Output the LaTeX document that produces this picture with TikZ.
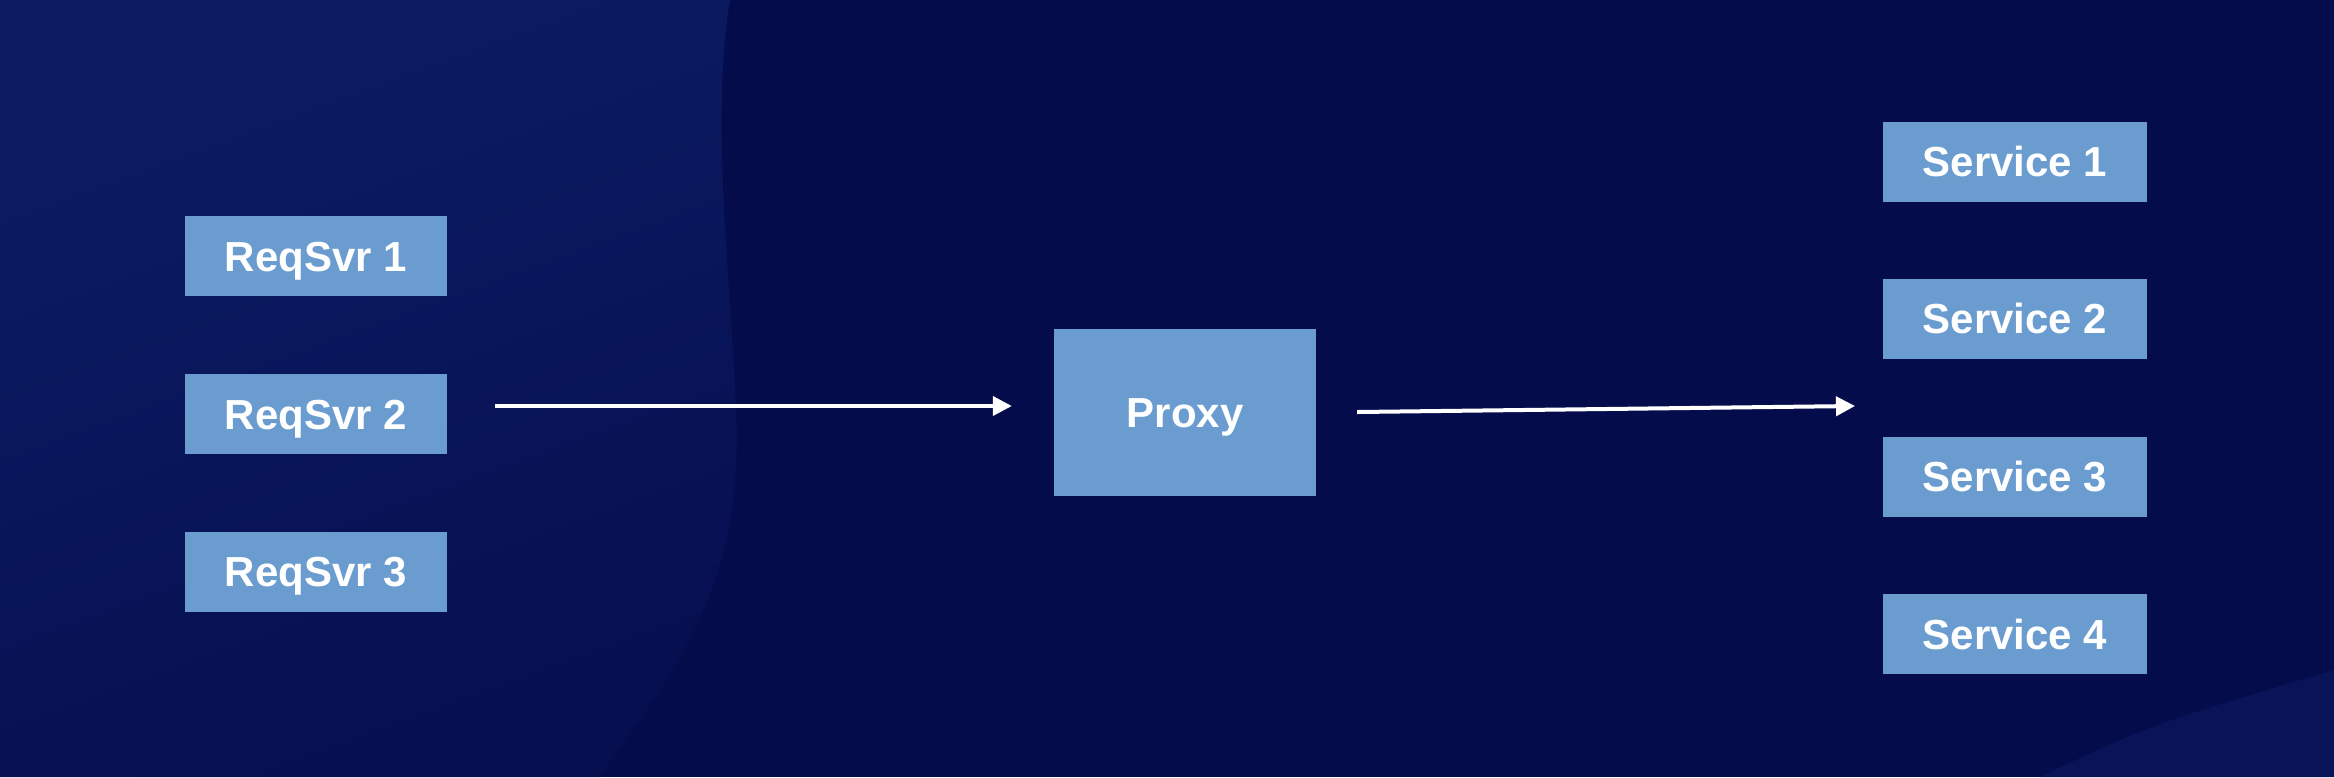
\documentclass[tikz,border=0pt]{standalone}
\usepackage{fontspec}
\setmainfont{Liberation Sans}
\usetikzlibrary{arrows.meta}
\definecolor{bgdark}{RGB}{5,12,76}
\definecolor{bgtop}{RGB}{12,28,99}
\definecolor{bgbot}{RGB}{6,15,80}
\definecolor{bgwedge}{RGB}{9,19,88}
\definecolor{boxblue}{RGB}{106,156,208}
\tikzset{
  box/.style={rectangle, fill=boxblue, inner sep=0pt, text=white,
    font=\fontsize{42}{50}\selectfont\bfseries, minimum height=80pt,
    text height=30pt, text depth=0pt},
  reqbox/.style={box, minimum width=262pt},
  svcbox/.style={box, minimum width=264pt},
  flow/.style={draw=white, line width=4pt, -{Triangle[length=19pt,width=19pt]}}
}
\begin{document}
\begin{tikzpicture}[x=1pt,y=-1pt]
\useasboundingbox (0,0) rectangle (2334,777);
% background
\fill[bgdark] (0,0) rectangle (2334,777);
\shade[top color=bgtop, bottom color=bgbot, shading angle=20]
  (0,0) -- (730,0) .. controls (705,150) and (745,380) .. (735,480)
  .. controls (725,620) and (650,700) .. (600,777) -- (0,777) -- cycle;
\fill[bgwedge] (2040,777) .. controls (2150,725) .. (2334,670) -- (2334,777) -- cycle;
% nodes
\node[reqbox] (r1) at (316,256) {ReqSvr 1};
\node[reqbox] (r2) at (316,414) {ReqSvr 2};
\node[reqbox] (r3) at (316,571.5) {ReqSvr 3};
\node[box, minimum width=262pt, minimum height=167pt] (proxy) at (1185,412.5) {Proxy};
\node[svcbox] (s1) at (2015,161.5) {Service 1};
\node[svcbox] (s2) at (2015,318.5) {Service 2};
\node[svcbox] (s3) at (2015,476.5) {Service 3};
\node[svcbox] (s4) at (2015,634) {Service 4};
\coordinate (fan) at (1855,406);
% connectors
\draw[flow, shorten <=48pt, shorten >=42pt] ([yshift=8pt]r2.east) -- ([yshift=6.5pt]proxy.west);
\draw[flow, shorten <=41pt] (proxy.east) -- (fan);
\end{tikzpicture}
\end{document}
